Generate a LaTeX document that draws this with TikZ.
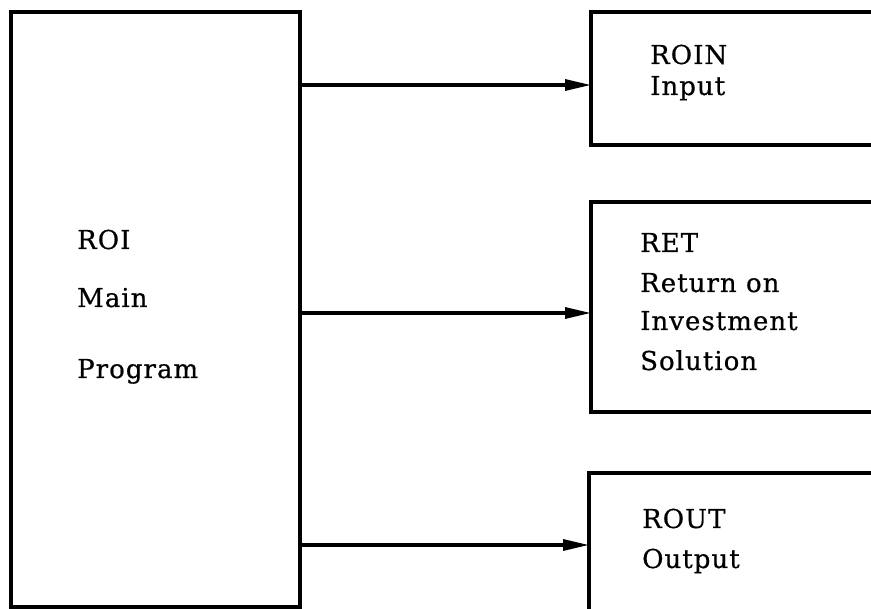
\documentclass[tikz,border=0pt]{standalone}
\usepackage{fontspec}
\setmainfont{DejaVu Serif}[LetterSpace=4,FakeBold=0.6]
\usetikzlibrary{arrows.meta}
\begin{document}
\begin{tikzpicture}[x=1pt,y=-1pt,
  box/.style={draw,line width=3.2pt,inner sep=0pt,outer sep=0pt},
  lbl/.style={anchor=base west,inner sep=0pt,font=\fontsize{26}{30}\selectfont},
  conn/.style={line width=3.2pt,-{Triangle[length=26pt,width=11pt]}}]
\useasboundingbox (0,0) rectangle (871,609);
\clip (0,0) rectangle (871,609);
\node[box,minimum width=289pt,minimum height=595pt] (main) at (155.5,309.5) {};
\node[box,minimum width=299pt,minimum height=133pt] (roin) at (740.5,78.5) {};
\node[box,minimum width=299pt,minimum height=210pt] (ret) at (740.5,307) {};
\node[box,minimum width=301pt,minimum height=157pt] (rout) at (739.5,551.5) {};
\coordinate (s1) at (main.east |- 0,85);
\coordinate (s2) at (main.east |- 0,313);
\coordinate (s3) at (main.east |- 0,545);
\draw[conn] (s1) -- (s1 -| roin.west);
\draw[conn] (s2) -- (s2 -| ret.west);
\draw[conn] (s3) -- (s3 -| rout.west);
\node[lbl] (t1) at (77,249) {ROI};
\node[lbl] (t2) at (77,307) {Main};
\node[lbl] (t3) at (77,378) {Program};
\node[lbl] (t4) at (650,64) {ROIN};
\node[lbl] (t5) at (650,95) {Input};
\node[lbl] (t6) at (640,252) {RET};
\node[lbl] (t7) at (640,292) {Return on};
\node[lbl] (t8) at (640,330) {Investment};
\node[lbl] (t9) at (640,370) {Solution};
\node[lbl] (t10) at (642,528) {ROUT};
\node[lbl] (t11) at (642,568) {Output};
\end{tikzpicture}
\end{document}
